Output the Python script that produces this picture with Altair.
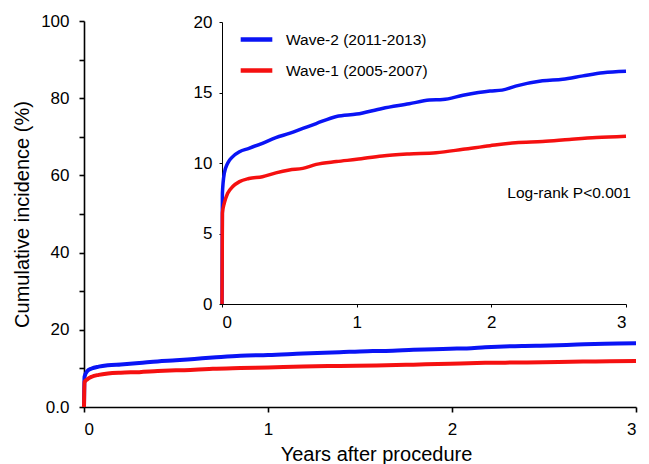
import altair as alt
import pandas as pd

# ---- data ----
wave2_label = "Wave-2 (2011-2013)"
wave1_label = "Wave-1 (2005-2007)"

wave2_years = [0, 0.003, 0.017, 0.042, 0.08, 0.13, 0.2, 0.3, 0.4, 0.5, 0.6, 0.7, 0.85,
               1.0, 1.19, 1.39, 1.54, 1.64, 1.79, 1.99, 2.08, 2.18, 2.38, 2.53, 2.68, 2.83, 3.0]
wave2_inc = [0, 7.85, 9.27, 9.98, 10.45, 10.8, 11.04, 11.4, 11.8, 12.1, 12.45, 12.8, 13.3,
             13.47, 13.87, 14.2, 14.46, 14.5, 14.8, 15.1, 15.17, 15.45, 15.83, 15.94, 16.18, 16.4, 16.5]

wave1_years = [0, 0.003, 0.017, 0.042, 0.08, 0.13, 0.2, 0.3, 0.4, 0.5, 0.6, 0.7, 0.85,
               1.0, 1.19, 1.39, 1.59, 1.79, 1.99, 2.18, 2.38, 2.58, 2.78, 3.0]
wave1_inc = [0, 6.44, 7.15, 7.85, 8.33, 8.68, 8.9, 9.03, 9.3, 9.5, 9.62, 9.9, 10.1,
             10.26, 10.5, 10.64, 10.73, 10.97, 11.23, 11.44, 11.53, 11.67, 11.8, 11.9]

main_x_ticks = [0, 1, 2, 3]
main_y_ticks = [0, 10, 20, 30, 40, 50, 60, 70, 80, 90, 100]
inset_y_ticks = [0, 5, 10, 15, 20]

note_text = ["Log-rank P<0.001"]
note_years = [3.0]
note_inc = [7.9]

BLUE = "#0a14f5"
RED = "#f51010"
FONT = "Liberation Sans"

df = pd.concat([
    pd.DataFrame({"years": wave2_years, "inc": wave2_inc, "wave": wave2_label}),
    pd.DataFrame({"years": wave1_years, "inc": wave1_inc, "wave": wave1_label}),
])
note_df = pd.DataFrame({"years": note_years, "inc": note_inc, "label": note_text})

color = alt.Color(
    "wave:N",
    scale=alt.Scale(domain=[wave2_label, wave1_label], range=[BLUE, RED]),
    legend=alt.Legend(
        title=None, orient="none", legendX=154, legendY=0,
        symbolType="stroke", symbolSize=1000, symbolStrokeWidth=4.5,
        labelFontSize=15.5, labelFont=FONT, labelColor="black",
        labelOffset=11, rowPadding=3, padding=0,
    ),
)

main = alt.Chart(df).mark_line(strokeWidth=4, interpolate="monotone").encode(
    x=alt.X("years:Q", scale=alt.Scale(domain=[0, 3], nice=False),
            axis=alt.Axis(values=main_x_ticks, title="Years after procedure",
                          tickSize=5, labelPadding=9, domainWidth=1.6, tickWidth=1.6,
                          titleX=292, titleY=53, titleBaseline="alphabetic")),
    y=alt.Y("inc:Q", scale=alt.Scale(domain=[0, 100], nice=False),
            axis=alt.Axis(values=main_y_ticks, title="Cumulative incidence (%)",
                          labelExpr="datum.value == 0 ? '0.0' : (datum.value % 20 == 0 ? datum.label : '')",
                          tickSize=5, labelPadding=10, titlePadding=8,
                          domainWidth=1.6, tickWidth=1.6)),
    color=color,
)

inset_x = alt.X("years:Q", scale=alt.Scale(domain=[0, 3], range=[138, 542], nice=False),
                axis=alt.Axis(orient="bottom", offset=-103, values=main_x_ticks, title=None,
                              tickSize=3, labelPadding=7))
inset_y = alt.Y("inc:Q", scale=alt.Scale(domain=[0, 20], range=[283, 1], nice=False),
                axis=alt.Axis(orient="left", offset=-138, values=inset_y_ticks, title=None,
                              tickSize=3, labelPadding=7))

inset_lines = alt.Chart(df).mark_line(strokeWidth=3.5, interpolate="monotone").encode(
    x=inset_x, y=inset_y, color=color)
inset_note = alt.Chart(note_df).mark_text(
    align="right", baseline="middle", fontSize=15.5, font=FONT, dx=5, color="black"
).encode(x=inset_x, y=inset_y, text="label:N")

inset = alt.layer(inset_lines, inset_note)

chart = alt.layer(main, inset).resolve_scale(
    x="independent", y="independent"
).properties(
    width=552, height=386,
    autosize=alt.AutoSizeParams(type="none"),
    padding={"left": 76, "top": 13, "right": 5, "bottom": 57},
).configure_axis(
    grid=False, domainColor="black", tickColor="black", labelColor="black",
    labelFont=FONT, titleFont=FONT, labelFontSize=17, titleFontSize=20,
    titleFontWeight="normal", titleColor="black",
).configure_view(stroke=None)

chart.save("out.html", embed_options={"renderer": "svg", "actions": False})
